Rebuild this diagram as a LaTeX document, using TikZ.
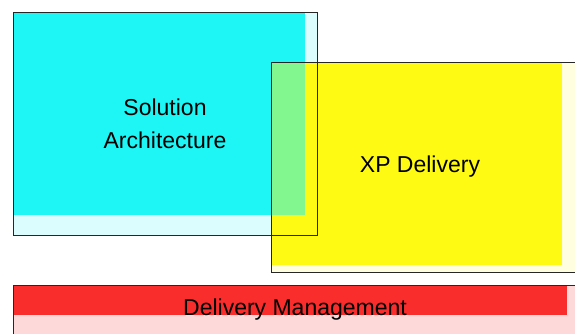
\documentclass[tikz,border=0pt]{standalone}
\usepackage{fontspec}
\setmainfont{Liberation Sans}
\usetikzlibrary{backgrounds}
\definecolor{archcyan}{RGB}{30,245,245}
\definecolor{xpyellow}{RGB}{255,250,20}
\definecolor{mgmtred}{RGB}{250,45,45}

\begin{document}
\begin{tikzpicture}[
         x = 1pt, y = -1pt,
 box/.style = {rectangle, draw=black!85, line width=1pt, anchor=north west,
               inner sep=0pt, outer sep=0pt, align=center,
               font=\fontsize{23}{33}\selectfont},
 txt/.style = {inner sep=0pt, font=\fontsize{23}{33}\selectfont}
                    ]
\useasboundingbox (0,0) rectangle (575,333);
\node (arch) [box, minimum width=304pt, minimum height=223pt] at (13,12) {Solution\\Architecture};
\node (xp) [box, minimum width=314pt, minimum height=210pt] at (271,62) {};
\node (xp text) [txt, xshift=-8pt] at (xp.center) {XP Delivery};
\node (mgmt) [box, minimum width=564pt, minimum height=50pt] at (13,285) {Delivery Management};
% fills behind the frames
\begin{scope}[on background layer]
\fill[archcyan!16] (arch.north west) rectangle (arch.south east);
\fill[archcyan] (arch.north west) rectangle ([xshift=-12pt,yshift=20pt]arch.south east);
\fill[xpyellow!14] (xp.north west) rectangle (xp.south east);
\fill[xpyellow] (xp.north west) rectangle ([xshift=-23pt,yshift=7pt]xp.south east);
\begin{scope}
\clip (xp.north west) rectangle (xp.south east);
\fill[archcyan, fill opacity=.55] (arch.north west) rectangle ([xshift=-12pt,yshift=20pt]arch.south east);
\end{scope}
\fill[mgmtred!18] (mgmt.north west) rectangle (mgmt.south east);
\fill[mgmtred] (mgmt.north west) rectangle ([xshift=-10pt,yshift=20pt]mgmt.south east);
\end{scope}
\end{tikzpicture}
\end{document}
